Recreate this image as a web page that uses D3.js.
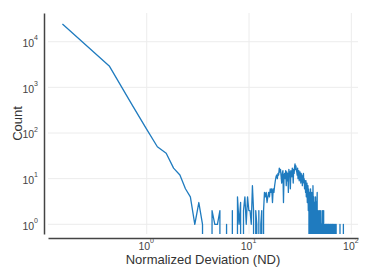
<!DOCTYPE html>
<meta charset="utf-8">
<style>
  body { margin: 0; background: #fff; }
  svg { font-family: "Liberation Sans", Arial, sans-serif; }
</style>
<svg width="374" height="280"></svg>
<script src="https://d3js.org/d3.v7.min.js"></script>
<script>

  // histogram of normalized deviation: bins of equal width, counts per bin
  var binStart = 0.15,
    binWidth = 0.28;

  var counts = [
    24500, 2950, 435, 125, 50, 36, 17, 12, 6, 4, 1, 3, 1,
    0, 0, 2, 1, 1, 2, 0, 0, 1, 0, 0, 2, 0, 0, 4, 1, 3, 0, 2, 4, 1, 4, 2,
    2, 1, 7, 2, 0, 2, 1, 0, 2, 0, 1, 2, 0, 2, 5,
    4, 5, 3, 4, 5, 4, 6, 5, 6, 3, 6, 5, 7,
    9, 11, 12, 10, 13, 12, 17, 14, 16, 11, 8, 13, 15, 3, 12,
    13, 10, 15, 7, 14, 9, 13, 5, 16, 12, 14, 6, 15, 13, 11, 17, 14, 8, 16, 13,
    18, 21, 16, 19, 15,
    14, 12, 17, 10, 13, 15, 9, 12, 14, 11, 8, 13, 10, 12, 7, 11, 9, 13, 8, 10, 6, 9,
    7, 5, 9, 4, 6, 8, 3, 5, 7, 2, 6, 4, 0, 5,
    3, 0, 6, 2, 4, 0, 5, 1, 3, 0, 7, 2, 0, 4, 1, 0, 3,
    2, 0, 4, 1, 0, 3, 0, 2, 5, 0,
    1, 0, 2, 0, 1, 1, 0, 2, 0, 0, 1, 0, 2, 1, 0, 0, 1, 0, 0, 2, 0, 1, 0, 0, 2, 0, 1, 0, 0,
    0, 1, 0, 0, 1, 0, 1, 0, 0, 1, 1, 0, 0, 1, 0, 0, 0, 1, 0, 1, 0, 0, 1, 0, 0, 0, 1, 0, 0, 1, 0, 0,
    1, 0, 0, 0, 1, 0, 0, 1, 0, 0, 0, 1, 0, 0, 0, 1, 0, 0, 0, 0, 1, 0, 0,
    0, 0, 1, 0, 0, 0, 0, 0, 0, 0,
    0, 0, 0, 0, 0, 0, 0, 0, 0, 0,
    0, 0, 0, 0, 0, 1, 0, 0, 0, 0,
    0, 0, 0, 0, 0, 0, 0, 0, 0, 0,
    0, 0, 0, 0, 0, 0, 0, 1, 0, 0,
    0, 0
  ];

  var xTicks = [1, 10, 100],
    yTicks = [1, 10, 100, 1000, 10000];

  var svg = d3.select("svg"),
    margin = { top: 13, left: 48 },
    width = 310,
    height = 221;

  var x = d3.scaleLog()
    .domain([Math.pow(10, -0.965), Math.pow(10, 2.065)])
    .range([0, width]);

  var y = d3.scaleLog()
    .domain([Math.pow(10, -0.2125), Math.pow(10, 4.629)])
    .range([height, 0]);

  var data = counts.map(function (c, i) {
    return { nd: binStart + i * binWidth, count: c };
  });

  var g = svg.append("g")
    .attr("transform", "translate(" + margin.left + "," + margin.top + ")");

  // grid
  g.append("g").selectAll("line")
    .data(xTicks)
    .enter().append("line")
    .attr("x1", function (d) { return x(d); })
    .attr("x2", function (d) { return x(d); })
    .attr("y1", 0)
    .attr("y2", height)
    .attr("stroke", "#ececec");

  g.append("g").selectAll("line")
    .data(yTicks)
    .enter().append("line")
    .attr("x1", 0)
    .attr("x2", width)
    .attr("y1", function (d) { return y(d); })
    .attr("y2", function (d) { return y(d); })
    .attr("stroke", "#ececec");

  // zero counts fall off the bottom of a log axis
  var line = d3.line()
    .x(function (d) { return x(d.nd); })
    .y(function (d) { return d.count > 0 ? y(d.count) : height + 5000; });

  g.append("clipPath")
    .attr("id", "plot-clip")
    .append("rect")
    .attr("width", width)
    .attr("height", height);

  g.append("path")
    .datum(data)
    .attr("clip-path", "url(#plot-clip)")
    .attr("fill", "none")
    .attr("stroke", "#1f7bbf")
    .attr("stroke-width", 1.3)
    .attr("stroke-linejoin", "round")
    .attr("d", line);

  function powerLabel(sel) {
    sel.each(function (d) {
      var t = d3.select(this).text(null);
      var e = Math.round(Math.log10(d));
      t.append("tspan").text("10");
      t.append("tspan").attr("dy", -6.5).attr("font-size", 7).text(e);
    });
  }

  // axes, pushed 4px away from the plot area
  var yAxis = g.append("g")
    .attr("transform", "translate(-4,0)")
    .call(d3.axisLeft(y).tickValues(yTicks).tickSize(0).tickSizeOuter(0).tickPadding(6));

  yAxis.selectAll(".tick text")
    .attr("font-size", 10.5)
    .attr("fill", "#444")
    .attr("dy", "0.45em")
    .call(powerLabel);

  var xAxis = g.append("g")
    .attr("transform", "translate(0," + (height + 4) + ")")
    .call(d3.axisBottom(x).tickValues(xTicks).tickSize(0).tickSizeOuter(0));

  xAxis.selectAll(".tick text")
    .attr("font-size", 10.5)
    .attr("fill", "#444")
    .attr("y", 11.5)
    .attr("dy", null)
    .attr("dx", -1)
    .call(powerLabel);

  svg.selectAll(".domain")
    .attr("stroke", "#444")
    .attr("stroke-width", 1.5);

  svg.append("text")
    .attr("x", margin.left + width / 2)
    .attr("y", 263.5)
    .attr("text-anchor", "middle")
    .attr("font-size", 13)
    .attr("fill", "#333")
    .text("Normalized Deviation (ND)");

  svg.append("text")
    .attr("transform", "translate(22," + (margin.top + height / 2) + ") rotate(-90)")
    .attr("text-anchor", "middle")
    .attr("font-size", 13)
    .attr("fill", "#333")
    .text("Count");

</script>
